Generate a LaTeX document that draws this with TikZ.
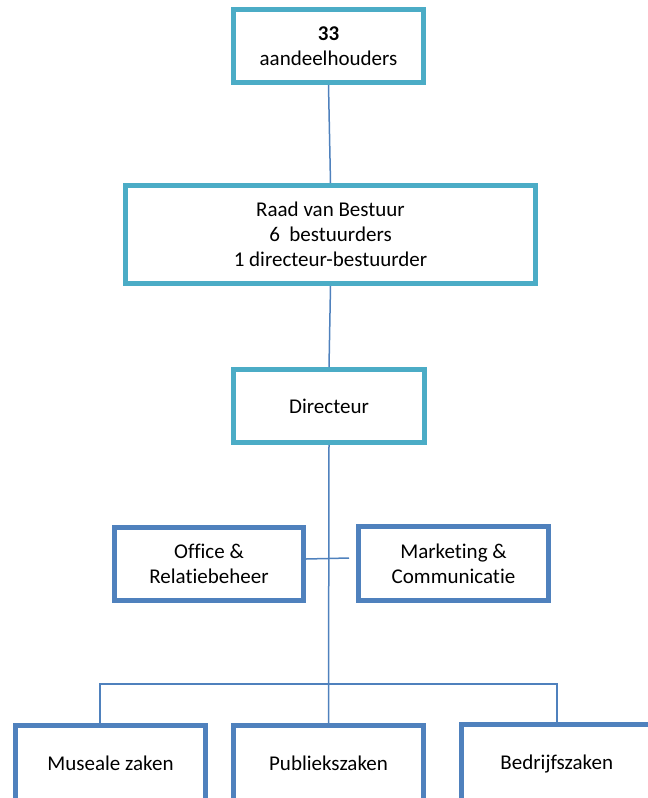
\documentclass[tikz,border=0pt]{standalone}
\usepackage{fontspec}
\setmainfont[Ligatures={NoCommon,NoRare,NoContextual}]{Carlito}
\definecolor{tealbox}{HTML}{4BACC6}
\definecolor{bluebox}{HTML}{4F81BD}
\begin{document}
\begin{tikzpicture}[x=1pt,y=-1pt,
  box/.style={draw, line width=5pt, align=center, inner sep=0pt,
    font=\fontsize{21}{25}\selectfont, text=black},
  tbox/.style={box, draw=tealbox},
  bbox/.style={box, draw=bluebox},
  lowbox/.style={bbox, minimum height=84pt, text height=14pt, text depth=9pt},
  conn/.style={draw=bluebox, line width=1.5pt}]
\useasboundingbox (0,0) rectangle (648,798);
\clip (0,0) rectangle (648,798);
\node[tbox, minimum width=190pt, minimum height=73pt] (sh) at (328.5,46) {\textbf{33}\\aandeelhouders};
\node[tbox, minimum width=410pt, minimum height=98pt] (rvb) at (330.5,234.5) {Raad van Bestuur\\6~~bestuurders\\1 directeur-bestuurder};
\node[tbox, minimum width=191pt, minimum height=73pt] (dir) at (329,406) {Directeur};
\node[bbox, minimum width=189pt, minimum height=73pt] (off) at (209,564) {Office \&\\Relatiebeheer};
\node[bbox, minimum width=190pt, minimum height=74pt] (mar) at (453.5,563.5) {Marketing \&\\Communicatie};
\node[lowbox, minimum width=190pt] (mus) at (110.5,767.5) {Museale zaken};
\node[lowbox, minimum width=190pt] (pub) at (328.5,767.5) {Publiekszaken};
\node[lowbox, minimum width=190.5pt] (bed) at (556.75,766.5) {Bedrijfszaken};
\coordinate (busL) at (100,684);
\coordinate (busR) at (557,684);
\draw[conn] (sh.south) -- (rvb.north);
\draw[conn] (rvb.south) -- (dir.north);
\draw[conn] (dir.south) -- (pub.north);
\draw[conn] ([yshift=5pt]off.east) -- ([yshift=5.5pt,xshift=-7pt]mar.west);
\draw[conn] (busL |- mus.north) -- (busL) -- (busR) -- (busR |- bed.north);
\end{tikzpicture}
\end{document}
